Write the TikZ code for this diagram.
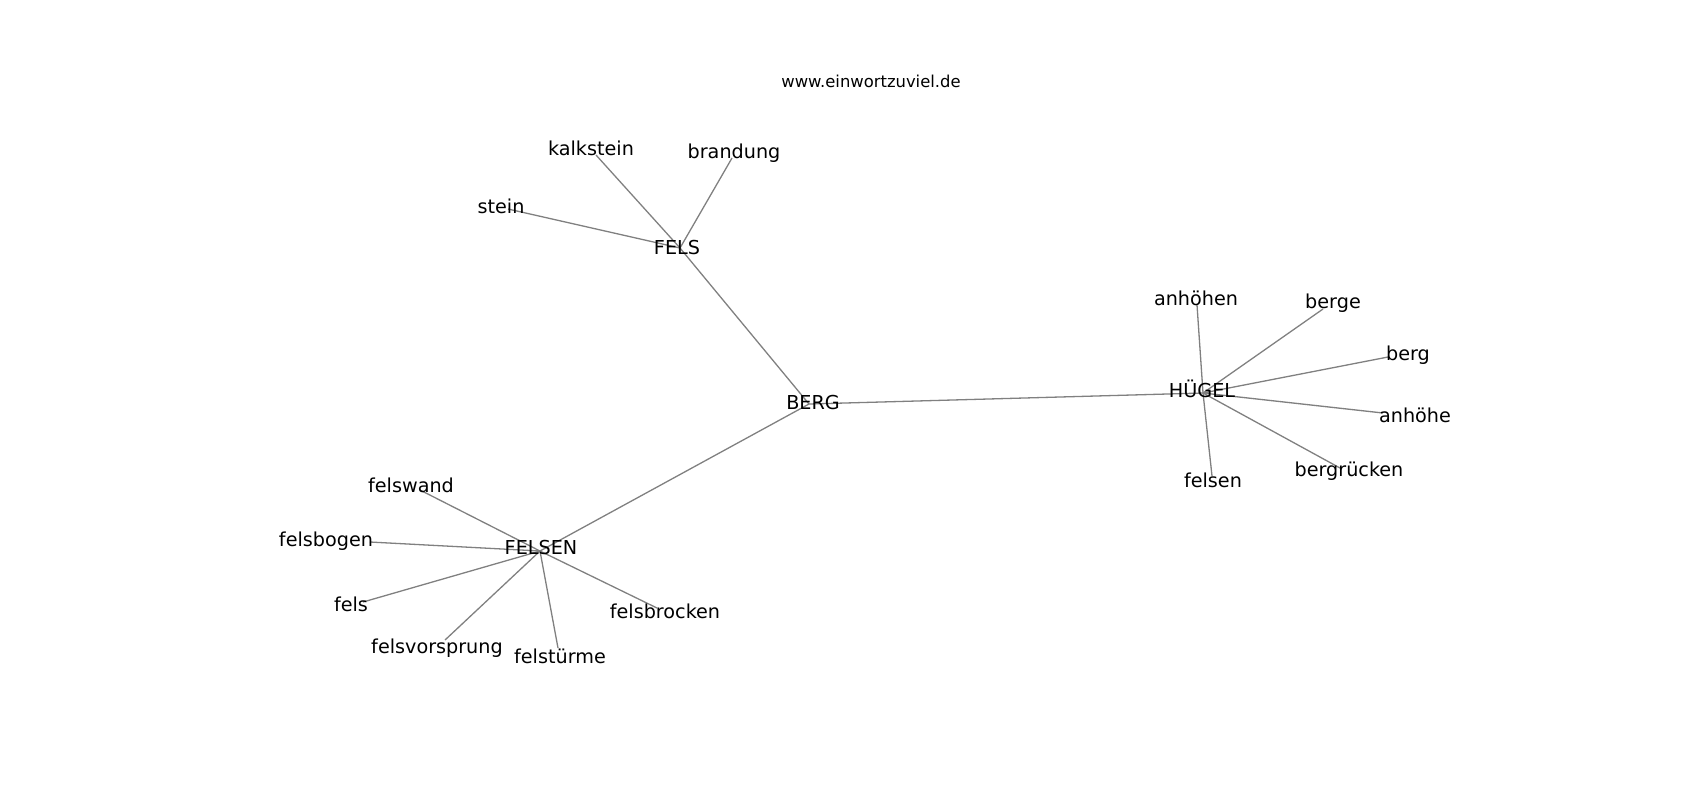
\documentclass[tikz,border=0pt]{standalone}
\usepackage{fontspec}
\setmainfont{DejaVu Sans}
\usetikzlibrary{positioning}

\begin{document}
\begin{tikzpicture}[x=0.5pt,y=-0.5pt,
                word/.style={anchor=base,inner sep=0pt,font=\fontsize{9.6}{11}\selectfont},
                site/.style={anchor=base,inner sep=0pt,font=\fontsize{8.2}{10}\selectfont},
                link/.style={draw=gray,line width=0.65pt}]
                \useasboundingbox (0,0) rectangle (1700,800);
                % graph positions
                \coordinate (p-BERG) at (809,404);
                \coordinate (p-FELS) at (680,248);
                \coordinate (p-HUEGEL) at (1203,393);
                \coordinate (p-FELSEN) at (540,551);
                \coordinate (p-stein) at (508,209);
                \coordinate (p-kalkstein) at (596,155);
                \coordinate (p-brandung) at (732,158);
                \coordinate (p-anhoehen) at (1197,305);
                \coordinate (p-berge) at (1323,309);
                \coordinate (p-berg) at (1388,357);
                \coordinate (p-anhoehe) at (1383,413);
                \coordinate (p-bergruecken) at (1340,468);
                \coordinate (p-felsen) at (1212,476);
                \coordinate (p-felswand) at (420,490);
                \coordinate (p-felsbogen) at (370,542);
                \coordinate (p-fels) at (363,602);
                \coordinate (p-felsvorsprung) at (445,640);
                \coordinate (p-felstuerme) at (558,648);
                \coordinate (p-felsbrocken) at (657,608);
                \path[link]
                (p-BERG) edge (p-FELS)
                (p-BERG) edge (p-HUEGEL)
                (p-BERG) edge (p-FELSEN)
                (p-FELS) edge (p-stein)
                (p-FELS) edge (p-kalkstein)
                (p-FELS) edge (p-brandung)
                (p-HUEGEL) edge (p-anhoehen)
                (p-HUEGEL) edge (p-berge)
                (p-HUEGEL) edge (p-berg)
                (p-HUEGEL) edge (p-anhoehe)
                (p-HUEGEL) edge (p-bergruecken)
                (p-HUEGEL) edge (p-felsen)
                (p-FELSEN) edge (p-felswand)
                (p-FELSEN) edge (p-felsbogen)
                (p-FELSEN) edge (p-fels)
                (p-FELSEN) edge (p-felsvorsprung)
                (p-FELSEN) edge (p-felstuerme)
                (p-FELSEN) edge (p-felsbrocken);
                % labels
                \node[site] (title) at (871,87) {www.einwortzuviel.de};
                \node[word] (BERG) at (813,409) {BERG};
                \node[word] (FELS) at (677,254) {FELS};
                \node[word] (HUEGEL) at (1202,397) {HÜGEL};
                \node[word] (FELSEN) at (541,554) {FELSEN};
                \node[word] (stein) at (501,213) {stein};
                \node[word] (kalkstein) at (591,155) {kalkstein};
                \node[word] (brandung) at (734,158) {brandung};
                \node[word] (anhoehen) at (1196,305) {anhöhen};
                \node[word] (berge) at (1333,308) {berge};
                \node[word] (berg) at (1408,360) {berg};
                \node[word] (anhoehe) at (1415,422) {anhöhe};
                \node[word] (bergruecken) at (1349,476) {bergrücken};
                \node[word] (felsen) at (1213,487) {felsen};
                \node[word] (felswand) at (411,492) {felswand};
                \node[word] (felsbogen) at (326,546) {felsbogen};
                \node[word] (fels) at (351,611) {fels};
                \node[word] (felsvorsprung) at (437,653) {felsvorsprung};
                \node[word] (felstuerme) at (560,663) {felstürme};
                \node[word] (felsbrocken) at (665,618) {felsbrocken};
\end{tikzpicture}
\end{document}
